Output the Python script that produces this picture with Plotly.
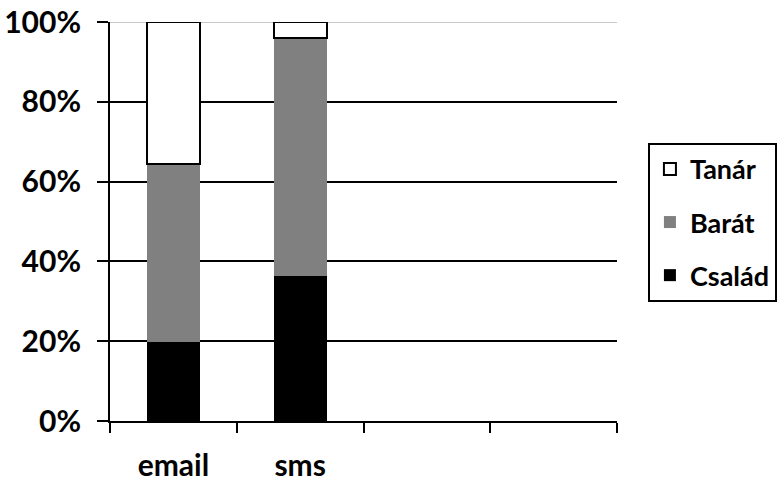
import plotly.graph_objects as go

categories = ["email", "sms", " ", "  "]
csalad = [19.7, 36.3, None, None]
barat = [44.6, 59.7, None, None]
tanar = [35.7, 4.0, None, None]

FONT = "Lato"

fig = go.Figure()
fig.add_trace(go.Bar(x=categories, y=csalad, name="Család", legendgroup="c", legendrank=3,
                     marker=dict(color="black", line=dict(width=0))))
fig.add_trace(go.Bar(x=categories, y=barat, name="Barát", legendgroup="b", legendrank=2,
                     marker=dict(color="#808080", line=dict(width=0))))
fig.add_trace(go.Bar(x=categories, y=tanar, name="Tanár", legendgroup="t", legendrank=1,
                     marker=dict(color="white", line=dict(color="black", width=2))))

# top gridline is light grey in the original
fig.add_shape(type="line", xref="paper", yref="y", x0=0, x1=1, y0=100, y1=100,
              line=dict(color="#c8c8c8", width=2), layer="between")

fig.update_layout(
    width=778, height=481,
    margin=dict(l=110, r=161, t=22, b=60, autoexpand=False),
    barmode="stack", bargap=0.58,
    plot_bgcolor="white", paper_bgcolor="white",
    font=dict(family=FONT, size=30, color="black", weight="bold"),
    legend=dict(x=1.061, y=0.697, xanchor="left", yanchor="top",
                traceorder="grouped", tracegroupgap=15,
                bordercolor="black", borderwidth=2,
                font=dict(family=FONT, size=27, weight="bold")),
    showlegend=True,
)
fig.update_xaxes(type="category", range=[-0.5, 3.5], tickson="boundaries",
                 showline=True, linecolor="black", linewidth=2,
                 ticks="outside", ticklen=10, tickwidth=2, tickcolor="black",
                 showgrid=False, ticklabelstandoff=17, fixedrange=True)
fig.update_yaxes(range=[0, 100], tickvals=[0, 20, 40, 60, 80, 100],
                 ticktext=["0%", "20%", "40%", "60%", "80%", "100%"],
                 showline=True, linecolor="black", linewidth=2,
                 ticks="outside", ticklen=11, tickwidth=2, tickcolor="black",
                 showgrid=True, gridcolor="black", gridwidth=2,
                 zeroline=False, ticklabelstandoff=10, fixedrange=True)

# remove the browser's default page margin so the chart sits at 0,0
fig.write_html("out.html", config={"displayModeBar": False},
               post_script="document.body.style.margin='0';")
